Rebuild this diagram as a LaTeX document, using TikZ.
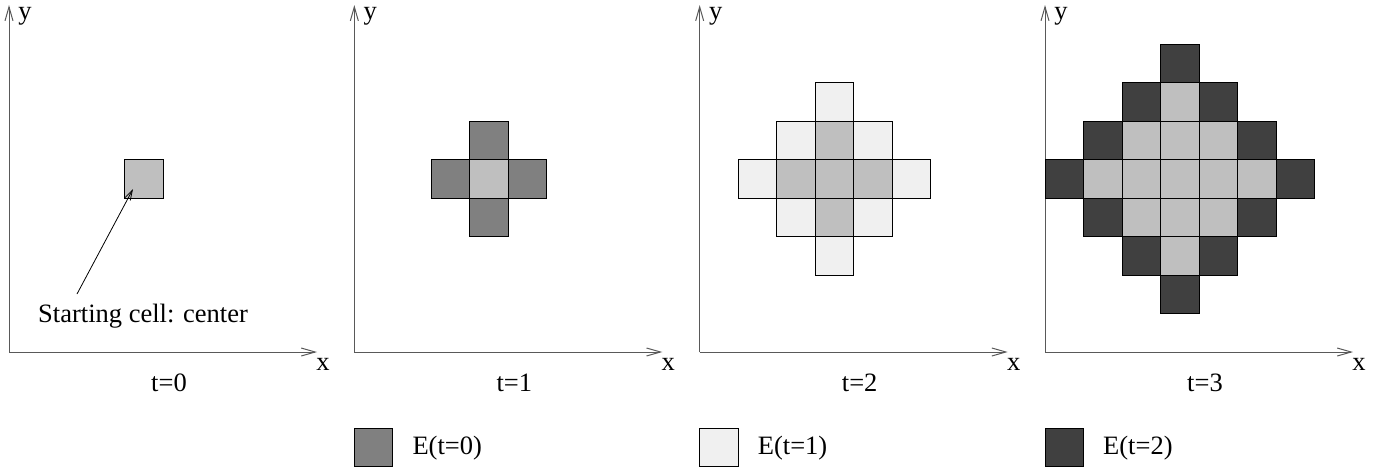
\documentclass[tikz,border=0pt]{standalone}
\usepackage{fontspec}
\setmainfont{Liberation Serif}
\usetikzlibrary{arrows.meta}
\definecolor{cC}{gray}{0.75}
\definecolor{cEzero}{gray}{0.5}
\definecolor{cEone}{gray}{0.94}
\definecolor{cEtwo}{gray}{0.25}
\tikzset{
  axisline/.style={draw=black!65, line width=1pt, -{Straight Barb[length=14pt,width=8pt]}},
  cellst/.style={draw=black, line width=1pt},
  lbl/.style={font=\fontsize{26.5}{30}\selectfont, inner sep=0pt},
  pointer/.style={draw=black, line width=0.8pt, -{Straight Barb[length=10pt,width=6pt]}},
}
\newcommand\mycell[4]{%
  \filldraw[cellst, fill=#4] ({#1+#2*38.5},{352-#3*38.5}) rectangle ++(38.5,-38.5);}
\begin{document}
\begin{tikzpicture}[x=1pt,y=-1pt]
\useasboundingbox (0,0) rectangle (1387,472);
\fill[white] (0,0) rectangle (1387,472);
% axes and labels
\foreach \k/\ox in {0/9,1/354.33,2/699.67,3/1045}{
  \coordinate (o\k) at (\ox,352);
  \coordinate (xe\k) at (\ox+308,352);
  \coordinate (ye\k) at (\ox,5);
  \draw[axisline] (o\k) -- (xe\k);
  \draw[axisline] (o\k) -- (ye\k);
  \node[lbl] (xl\k) at (\ox+314,364) {x};
  \node[lbl] (yl\k) at (\ox+16,16) {y};
  \node[lbl] (tl\k) at (\ox+160,383) {t=\k};
}
% panel 1
\mycell{9}{3}{4}{cC}
\node[lbl, anchor=west] (start) at (38,316) {Starting cell: center};
\coordinate (as) at (77,294);
\coordinate (ae) at (133,189);
\draw[pointer] (as) -- (ae);
% panel 2
\foreach \i/\j in {3/5,2/4,4/4,3/3}{\mycell{354.33}{\i}{\j}{cEzero}}
\mycell{354.33}{3}{4}{cC}
% panels 3 and 4
\foreach \i in {0,...,6}{
  \foreach \j in {1,...,7}{
    \pgfmathtruncatemacro\d{abs(\i-3)+abs(\j-4)}
    \ifnum\d<2 \mycell{699.67}{\i}{\j}{cC}\fi
    \ifnum\d=2 \mycell{699.67}{\i}{\j}{cEone}\fi
    \ifnum\d<3 \mycell{1045}{\i}{\j}{cC}\fi
    \ifnum\d=3 \mycell{1045}{\i}{\j}{cEtwo}\fi
  }}
% legend
\foreach \ox/\col/\t in {354.33/cEzero/0,699.67/cEone/1,1045/cEtwo/2}{
  \filldraw[cellst, fill=\col] (\ox,428) rectangle ++(38.5,38.5);
  \node[lbl, anchor=west] (leg\t) at (\ox+58,448) {E(t=\t)};
}
\end{tikzpicture}
\end{document}
